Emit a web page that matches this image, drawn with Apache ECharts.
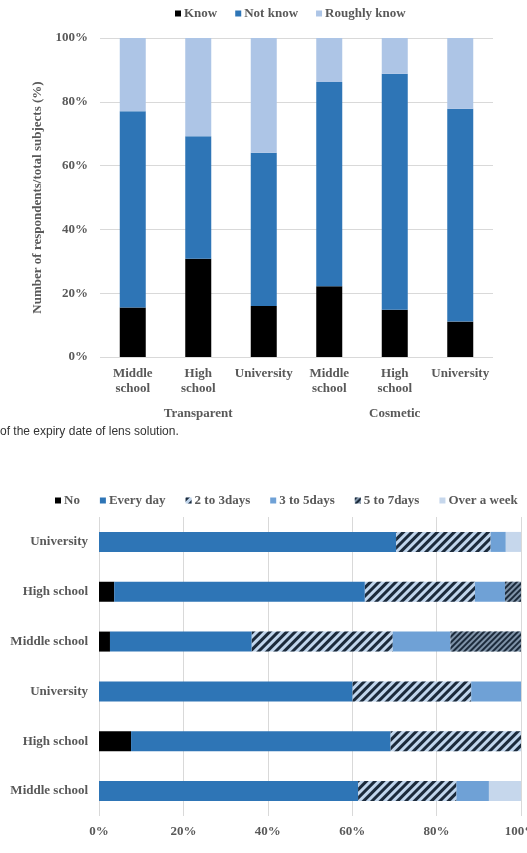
<!DOCTYPE html>
<html style="height:100%;">
<head>
    <meta charset="utf-8">
    <script src="https://cdn.jsdelivr.net/npm/echarts@6/dist/echarts.min.js"></script>
</head>
<body style="height:100%;margin:0;">
    <div id="main" style="width:527px;height:853px;"></div>
</body>
</html>
<script>
    // top chart: awareness of expiry date (%)
    var topCats = ['Middle\nschool', 'High\nschool', 'University', 'Middle\nschool', 'High\nschool', 'University'];
    var lensGroups = ['Transparent', 'Cosmetic'];
    var know = [15.5, 30.8, 16, 22.2, 14.8, 11.1];
    var notKnow = [61.5, 38.4, 48, 64, 74, 66.7];
    var roughlyKnow = [23, 30.8, 36, 13.8, 11.2, 22.2];

    // bottom chart: listed bottom to top (Transparent x3, then Cosmetic x3)
    var bottomCats = ['Middle school', 'High school', 'University', 'Middle school', 'High school', 'University'];
    var no = [0, 7.6, 0, 2.6, 3.6, 0];
    var everyDay = [61.4, 61.5, 60.1, 33.6, 59.4, 70.4];
    var days2to3 = [23.3, 30.9, 28.1, 33.4, 26.1, 22.4];
    var days3to5 = [7.7, 0, 11.8, 13.7, 7.1, 3.6];
    var days5to7 = [0, 0, 0, 16.7, 3.8, 0];
    var overWeek = [7.6, 0, 0, 0, 0, 3.6];

    var pctTicks = [0, 20, 40, 60, 80, 100];

    var serif = 'Liberation Serif';
    var grey = '#595959';
    var lab = {fontFamily: serif, fontWeight: 'bold', fontSize: 13, color: grey};

    function bar(name, data, color, stack, xi, yi, w, decal) {
        var s = {
            name: name, type: 'bar', stack: stack, data: data,
            xAxisIndex: xi, yAxisIndex: yi, barWidth: w,
            itemStyle: {color: color},
            emphasis: {disabled: true}
        };
        if (decal) s.itemStyle.decal = decal;
        return s;
    }

    var hatch = {symbol: 'rect', symbolSize: 1, dashArrayX: [1, 0], dashArrayY: [2.5, 2.5], rotation: -Math.PI / 4, color: '#1b2a3b'};
    var hatchDense = {symbol: 'rect', symbolSize: 1, dashArrayX: [1, 0], dashArrayY: [1.5, 1.5], rotation: -Math.PI / 4, color: '#1b2a3b'};

    var myChart = echarts.init(document.getElementById('main'));
    var option = {
        backgroundColor: '#fff',
        animation: false,
        legend: [
            {
                data: ['Know', 'Not know', 'Roughly know'],
                left: 170, top: 2, width: 400,
                icon: 'rect', itemWidth: 6, itemHeight: 6, itemGap: 18,
                textStyle: Object.assign({padding: [0, 0, 0, -2]}, lab)
            },
            {
                data: ['No', 'Every day', '2 to 3days', '3 to 5days', '5 to 7days', 'Over a week'],
                left: 50, top: 489, width: 500,
                icon: 'rect', itemWidth: 6, itemHeight: 6, itemGap: 20,
                textStyle: Object.assign({padding: [0, 0, 0, -2]}, lab)
            }
        ],
        graphic: [{
            type: 'text', left: 0, top: 426,
            style: {text: 'of the expiry date of lens solution.', font: '12px "Liberation Sans"', fill: '#333'}
        }],
        grid: [
            {left: 100, right: 34, top: 38, height: 319, outerBoundsMode: 'none'},
            {left: 99, right: 6, top: 517, height: 299, outerBoundsMode: 'none'}
        ],
        xAxis: [
            {
                type: 'category', gridIndex: 0, data: topCats,
                axisLine: {show: false}, axisTick: {show: false},
                axisLabel: Object.assign({margin: 9, lineHeight: 15, interval: 0}, lab)
            },
            {
                type: 'category', gridIndex: 0, data: lensGroups, position: 'bottom', offset: 41,
                axisLine: {show: false}, axisTick: {show: false},
                axisLabel: Object.assign({margin: 8, lineHeight: 15}, lab)
            },
            {
                type: 'value', gridIndex: 1, min: pctTicks[0], max: pctTicks[pctTicks.length - 1], interval: 20,
                axisLine: {show: false}, axisTick: {show: false},
                splitLine: {lineStyle: {color: '#d9d9d9'}},
                axisLabel: Object.assign({margin: 9, formatter: '{value}%'}, lab)
            }
        ],
        yAxis: [
            {
                type: 'value', gridIndex: 0, min: pctTicks[0], max: pctTicks[pctTicks.length - 1], interval: 20,
                name: 'Number of respondents/total subjects (%)', nameLocation: 'middle', nameGap: 51,
                nameTextStyle: lab,
                axisLine: {show: false}, axisTick: {show: false},
                splitLine: {lineStyle: {color: '#d9d9d9'}},
                axisLabel: Object.assign({margin: 12, formatter: '{value}%'}, lab)
            },
            {
                type: 'category', gridIndex: 1, data: bottomCats,
                axisLine: {show: false}, axisTick: {show: false},
                axisLabel: Object.assign({margin: 11}, lab)
            }
        ],
        series: [
            bar('Know', know, '#000000', 'a', 0, 0, 26),
            bar('Not know', notKnow, '#2e75b6', 'a', 0, 0, 26),
            bar('Roughly know', roughlyKnow, '#adc5e6', 'a', 0, 0, 26),
            bar('No', no, '#000000', 'b', 2, 1, 20),
            bar('Every day', everyDay, '#2e75b6', 'b', 2, 1, 20),
            bar('2 to 3days', days2to3, '#c0d5ec', 'b', 2, 1, 20, hatch),
            bar('3 to 5days', days3to5, '#6fa1d6', 'b', 2, 1, 20),
            bar('5 to 7days', days5to7, '#7f93a8', 'b', 2, 1, 20, hatchDense),
            bar('Over a week', overWeek, '#c6d7ec', 'b', 2, 1, 20)
        ]
    };

    myChart.setOption(option);
</script>
